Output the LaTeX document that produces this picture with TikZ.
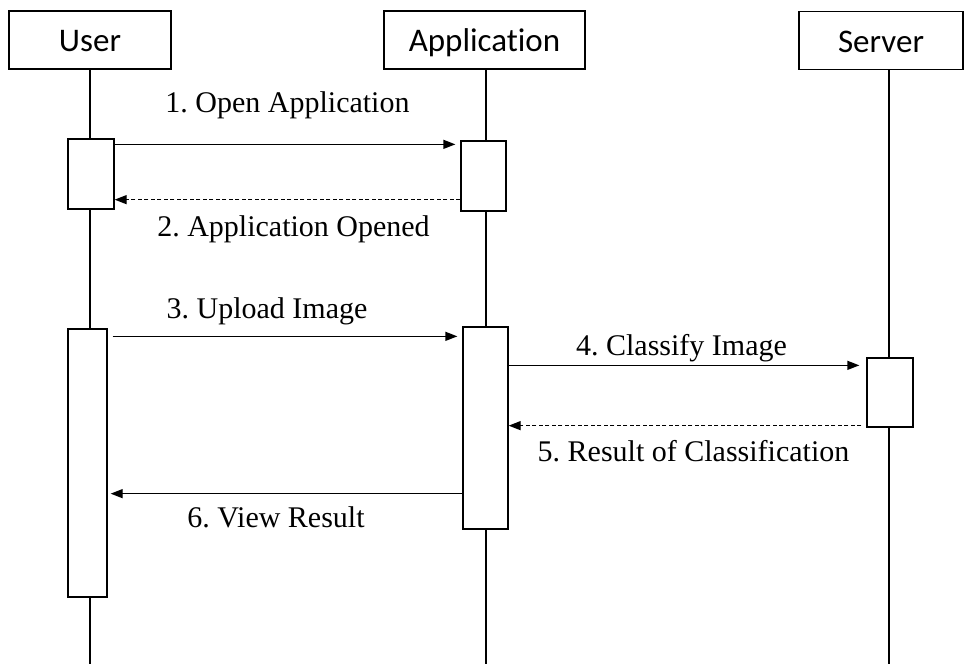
\documentclass[tikz,border=0pt]{standalone}
\usepackage{fontspec}
\setmainfont{Liberation Serif}
\newfontfamily\headfont[Ligatures=NoCommon]{Carlito}
\usepackage{tikz}
\usetikzlibrary{arrows.meta,positioning,calc}
\frenchspacing

\begin{document}
\begin{tikzpicture}[x=1pt,y=-1pt,line width=1.3pt,
  head/.style={draw,fill=white,minimum height=58pt,inner sep=0pt,text height=23pt,text depth=0pt,font=\headfont\fontsize{33}{40}\selectfont},
  act/.style={draw,fill=white,inner sep=0pt},
  a/.style={-{Triangle[length=12pt,width=9pt]}},
  r/.style={a,dash pattern=on 4pt off 2.5pt},
  lbl/.style={font=\fontsize{30}{36}\selectfont,inner sep=3pt}]
  \useasboundingbox (0,0) rectangle (968,664);
  % lifeline heads and ends
  \node[head,minimum width=162pt](user) at (90,40){User};
  \node[head,minimum width=201pt](app) at (484.5,40){Application};
  \node[head,minimum width=164pt](srv) at (881,40.5){Server};
  \coordinate (ub) at (90,664);
  \coordinate (ab) at (486,664);
  \coordinate (sb) at (889,664);
  \draw (user.south -| ub) -- (ub);
  \draw (app.south -| ab) -- (ab);
  \draw (srv.south -| sb) -- (sb);
  % activation bars
  \node[act,minimum width=46pt,minimum height=70pt](ua1) at (91,174){};
  \node[act,minimum width=45pt,minimum height=70pt](aa1) at (483.5,176){};
  \node[act,minimum width=39pt,minimum height=268pt](ua2) at (87.5,463){};
  \node[act,minimum width=45pt,minimum height=202pt](aa2) at (485.5,428){};
  \node[act,minimum width=46pt,minimum height=69pt](sa) at (890,392.5){};
  % messages
  \draw[a,shorten >=5pt]([yshift=-6pt]ua1.north east)--node[lbl,above=22pt]{1. Open Application}([yshift=-6pt]ua1.north east -| aa1.west);
  \draw[r]([yshift=10pt]ua1.south east -| aa1.west)--node[lbl,below=12pt,xshift=6pt]{2. Application Opened}([yshift=10pt]ua1.south east);
  \draw[a,shorten <=5pt,shorten >=5pt]([yshift=-8pt]ua2.north east)--node[lbl,above=8pt,xshift=-18pt]{3. Upload Image}([yshift=-8pt]ua2.north east -| aa2.west);
  \draw[a,shorten >=7pt]([yshift=-8pt]sa.north west -| aa2.east)--node[lbl,above=0pt,xshift=-6pt]{4. Classify Image}([yshift=-8pt]sa.north west);
  \draw[r,shorten <=5pt]([yshift=2pt]sa.south west)--node[lbl,below=11pt,xshift=6pt]{5. Result of Classification}([yshift=2pt]sa.south west -| aa2.east);
  \draw[a,shorten >=3pt]([yshift=36pt]aa2.south west)--node[lbl,below=9pt,xshift=-9pt]{6. View Result}([yshift=36pt]aa2.south west -| ua2.east);
\end{tikzpicture}
\end{document}
